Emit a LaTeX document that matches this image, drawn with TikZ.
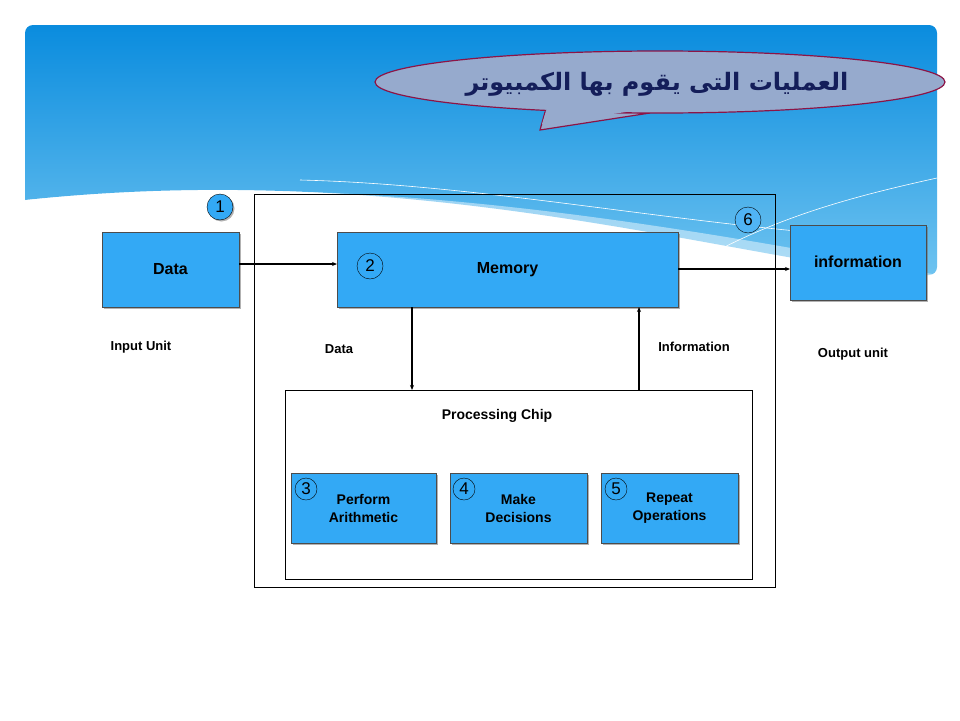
\documentclass[tikz,border=0pt]{standalone}
\usepackage{fontspec}
\setmainfont{Liberation Sans}
\newfontfamily\arfont[Script=Arabic]{DejaVu Sans}
\usetikzlibrary{arrows.meta,shadows,shapes.geometric}
\TeXXeTstate=1
\definecolor{boxblue}{RGB}{51,169,245}
\definecolor{navy}{RGB}{20,30,90}
\definecolor{callfill}{RGB}{150,170,205}
\definecolor{callline}{RGB}{140,20,70}
\definecolor{hdtop}{RGB}{10,140,222}
\definecolor{hdbot}{RGB}{110,195,240}
\definecolor{sixblue}{RGB}{80,180,245}
\begin{document}
\begin{tikzpicture}[x=1pt,y=-1pt,
  box/.style={draw=black!70,fill=boxblue,line width=0.8pt,drop shadow={shadow xshift=2pt,shadow yshift=-2pt,fill=black!60},font=\bfseries},
  num/.style={circle,draw=black,minimum size=26pt,inner sep=0pt,font=\fontsize{17}{17}\selectfont},
  lab/.style={font=\bfseries\fontsize{13}{15}\selectfont},
  arr/.style={line width=1.6pt,-{Stealth[length=5pt,width=4pt]}}]
\useasboundingbox (0,0) rectangle (960,720);
\fill[white] (0,0) rectangle (960,720);
% header
\shade[top color=hdtop,bottom color=hdbot,rounded corners=8pt]
 (25,200) -- (25,25) -- (937,25) -- (937,275) -- (905,275) [sharp corners] .. controls (700,250) and (400,160) .. (25,200);
\fill[white,opacity=0.45] (25,200) .. controls (300,175) and (550,200) .. (937,275) -- (937,290) .. controls (600,215) and (300,190) .. (25,215) -- cycle;
\draw[white,line width=0.6pt] (300,180) .. controls (500,185) and (700,230) .. (920,240);
\draw[white,line width=0.6pt] (700,260) .. controls (780,215) and (860,195) .. (937,178);
% callout
\path[fill=callfill,draw=callline,line width=1.2pt]
 (545,112) -- (540,130) -- (650,113) -- cycle;
\node[ellipse,minimum width=570pt,minimum height=62pt,fill=callfill,draw=callline,line width=1.2pt] (call) at (660,82) {};
\fill[callfill] (547,108) -- (542,124) -- (640,110) -- cycle;
\node[text=navy,font=\arfont\bfseries\fontsize{24}{26}\selectfont] (title) at (657,84) {\beginR العمليات التى يقوم بها الكمبيوتر\endR};
% frames
\node[draw=black,minimum width=521pt,minimum height=393pt,inner sep=0pt] (outer) at (514.5,390.5) {};
\node[draw=black,fill=white,minimum width=467pt,minimum height=189pt,inner sep=0pt] (inner) at (518.5,484.5) {};
% boxes
\node[box,minimum width=137pt,minimum height=75pt,font=\bfseries\fontsize{16}{18}\selectfont] (data) at (170.5,269.5) {Data};
\node[box,minimum width=341pt,minimum height=75pt,font=\bfseries\fontsize{16}{18}\selectfont] (mem) at (507.5,269.5) {Memory};
\node[box,minimum width=136pt,minimum height=75pt] (info) at (858,262.5) {};
\node[font=\bfseries\fontsize{16}{18}\selectfont] (infot) at (858,262) {information};
\node[box,minimum width=145pt,minimum height=70pt,align=center,font=\bfseries\fontsize{14}{18}\selectfont] (p1) at (363.5,508) {Perform\\Arithmetic};
\node[box,minimum width=137pt,minimum height=70pt,align=center,font=\bfseries\fontsize{14}{18}\selectfont] (p2) at (518.5,508) {Make\\Decisions};
\node[box,minimum width=137pt,minimum height=70pt,align=center,font=\bfseries\fontsize{14}{18}\selectfont] (p3) at (669.5,508) {Repeat\\Operations};
% numbers
\node[num,fill=boxblue,drop shadow={shadow xshift=1.5pt,shadow yshift=-1.5pt,fill=black!60}] (n1) at (220,207) {1};
\node[num] (n2) at (370,266) {2};
\node[num,fill=sixblue] (n6) at (748,220) {6};
\node[num,minimum size=22pt] (n3) at (306,489) {3};
\node[num,minimum size=22pt] (n4) at (464,489) {4};
\node[num,minimum size=22pt] (n5) at (616,489) {5};
% arrows
\coordinate (a1) at (239,264);
\coordinate (a2) at (337,264);
\draw[arr] (a1) -- (a2);
\coordinate (b1) at (678,269);
\coordinate (b2) at (790,269);
\draw[arr] (b1) -- (b2);
\coordinate (c1) at (412,307);
\coordinate (c2) at (412,390);
\draw[arr] (c1) -- (c2);
\coordinate (d1) at (639,390);
\coordinate (d2) at (639,307);
\draw[arr] (d1) -- (d2);
% labels
\node[lab] (l1) at (141,347) {Input Unit};
\node[lab] (l2) at (339,349) {Data};
\node[lab] (l3) at (694,347) {Information};
\node[lab] (l4) at (853,354) {Output unit};
\node[lab,font=\bfseries\fontsize{14}{16}\selectfont] (l5) at (497,416) {Processing Chip};
\end{tikzpicture}
\end{document}
